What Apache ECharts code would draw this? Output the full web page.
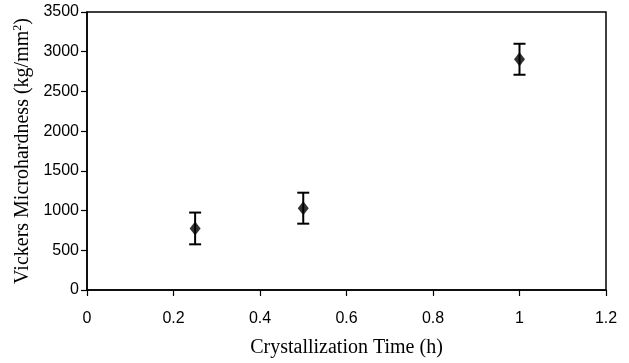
<!DOCTYPE html>
<html><head><meta charset="utf-8">
<script src="https://cdn.jsdelivr.net/npm/echarts@6/dist/echarts.min.js"></script>
<style>html,body{margin:0;padding:0;background:#fff}#c{width:629px;height:363px}</style>
</head><body><div id="c"></div>
<script>
const times = [0.25, 0.5, 1.0];
const hardness = [775, 1030, 2905];
const errors = [200, 195, 195];
const xTicks = [0, 0.2, 0.4, 0.6, 0.8, 1, 1.2];
const yTicks = [0, 500, 1000, 1500, 2000, 2500, 3000, 3500];

const chart = echarts.init(document.getElementById('c'));
const tickFont = '"Liberation Sans Narrow", "Liberation Sans", sans-serif';
const serif = '"Liberation Serif", "DejaVu Serif", serif';
chart.setOption({
  animation: false,
  grid: {left: 87, right: 23, top: 12, bottom: 70, show: true, borderColor: '#000', borderWidth: 1.5, backgroundColor: 'transparent'},
  xAxis: {
    type: 'value', min: xTicks[0], max: xTicks[xTicks.length-1], interval: 0.2,
    name: 'Crystallization Time (h)', nameLocation: 'middle', nameGap: 48,
    nameTextStyle: {fontFamily: serif, fontSize: 20, color: '#000'},
    axisLine: {lineStyle: {color: '#000', width: 1.5}},
    axisTick: {show: true, inside: false, length: 6, lineStyle: {color: '#000', width: 1.2}},
    axisLabel: {fontFamily: tickFont, fontSize: 16, color: '#000', margin: 21,
      formatter: v => String(Math.round(v*10)/10)},
    splitLine: {show: false}
  },
  yAxis: {
    type: 'value', min: yTicks[0], max: yTicks[yTicks.length-1], interval: 500,
    name: 'Vickers Microhardness (kg/mm{sup|2})', nameLocation: 'middle', nameGap: 50,
    nameTextStyle: {fontFamily: serif, fontSize: 20, color: '#000',
      rich: {sup: {fontFamily: serif, fontSize: 12, color: '#000', verticalAlign: 'top', padding: [0,0,9,0]}}},
    axisLine: {show: true, lineStyle: {color: '#000', width: 1.5}},
    axisTick: {show: true, inside: false, length: 6, lineStyle: {color: '#000', width: 1.2}},
    axisLabel: {fontFamily: tickFont, fontSize: 16, color: '#000', margin: 8,
      formatter: v => String(v)},
    splitLine: {show: false}
  },
  series: [
    {
      type: 'custom',
      data: times.map((t, i) => [t, hardness[i] - errors[i], hardness[i] + errors[i]]),
      renderItem: function (params, api) {
        const x = api.value(0);
        const lo = api.coord([x, api.value(1)]);
        const hi = api.coord([x, api.value(2)]);
        const hw = 6;
        const st = {stroke: '#000', lineWidth: 2};
        return {type: 'group', children: [
          {type: 'line', shape: {x1: lo[0], y1: lo[1], x2: hi[0], y2: hi[1]}, style: st},
          {type: 'line', shape: {x1: lo[0]-hw, y1: lo[1], x2: lo[0]+hw, y2: lo[1]}, style: st},
          {type: 'line', shape: {x1: hi[0]-hw, y1: hi[1], x2: hi[0]+hw, y2: hi[1]}, style: st}
        ]};
      },
      z: 2
    },
    {
      type: 'scatter',
      data: times.map((t, i) => [t, hardness[i]]),
      symbol: 'diamond', symbolSize: [11, 14],
      itemStyle: {color: '#000'},
      z: 3
    }
  ]
});
</script>
</body></html>
